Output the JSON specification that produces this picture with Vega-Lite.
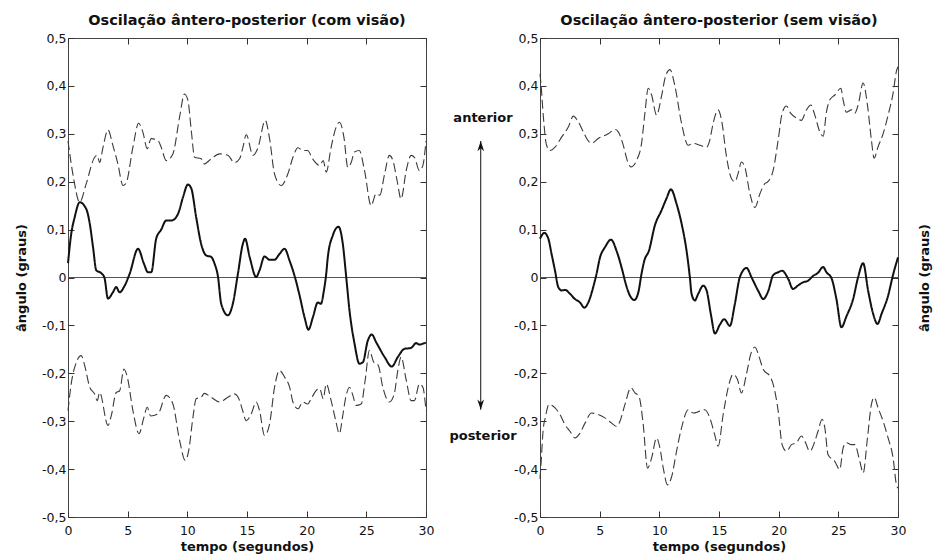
{
  "$schema": "https://vega.github.io/schema/vega-lite/v6.json",
  "padding": {"left": 14, "top": 12, "right": 2, "bottom": 0},
  "background": "white",
  "bounds": "flush",
  "spacing": 0,
  "config": {
    "font": "DejaVu Sans",
    "view": {"stroke": "#444", "strokeWidth": 1},
    "axis": {"domain": false, "grid": false, "tickColor": "#333", "tickSize": -6, "tickWidth": 1, "labelFont": "DejaVu Sans", "labelFontSize": 12.5, "labelColor": "#111", "titleFont": "DejaVu Sans", "titleFontSize": 13, "titleFontWeight": "bold", "titleColor": "#111", "labelFlush": false, "labelOverlap": false},
    "title": {"font": "DejaVu Sans", "fontSize": 14.5, "fontWeight": "bold", "color": "#111", "offset": 4, "anchor": "middle"}
  },
  "datasets": {
    "com": [
      {"s":"sup","t":0,"v":0.285},{"s":"sup","t":0.45,"v":0.21},{"s":"sup","t":0.98,"v":0.157},{"s":"sup","t":1.53,"v":0.196},{"s":"sup","t":2.23,"v":0.251},{"s":"sup","t":2.45,"v":0.255},{"s":"sup","t":2.65,"v":0.24},{"s":"sup","t":2.92,"v":0.27},{"s":"sup","t":3.35,"v":0.308},{"s":"sup","t":3.76,"v":0.276},{"s":"sup","t":4.18,"v":0.237},{"s":"sup","t":4.61,"v":0.192},{"s":"sup","t":4.87,"v":0.197},{"s":"sup","t":5.44,"v":0.272},{"s":"sup","t":5.92,"v":0.322},{"s":"sup","t":6.28,"v":0.303},{"s":"sup","t":6.64,"v":0.269},{"s":"sup","t":6.97,"v":0.29},{"s":"sup","t":7.54,"v":0.286},{"s":"sup","t":7.81,"v":0.272},{"s":"sup","t":8.23,"v":0.244},{"s":"sup","t":8.79,"v":0.258},{"s":"sup","t":9.35,"v":0.335},{"s":"sup","t":9.76,"v":0.383},{"s":"sup","t":10.05,"v":0.37},{"s":"sup","t":10.33,"v":0.307},{"s":"sup","t":10.61,"v":0.251},{"s":"sup","t":11.16,"v":0.248},{"s":"sup","t":11.42,"v":0.237},{"s":"sup","t":12.0,"v":0.248},{"s":"sup","t":12.71,"v":0.258},{"s":"sup","t":13.4,"v":0.255},{"s":"sup","t":13.94,"v":0.24},{"s":"sup","t":14.38,"v":0.248},{"s":"sup","t":14.64,"v":0.27},{"s":"sup","t":14.94,"v":0.298},{"s":"sup","t":15.5,"v":0.255},{"s":"sup","t":15.91,"v":0.27},{"s":"sup","t":16.53,"v":0.328},{"s":"sup","t":16.89,"v":0.29},{"s":"sup","t":17.31,"v":0.216},{"s":"sup","t":17.86,"v":0.192},{"s":"sup","t":18.42,"v":0.216},{"s":"sup","t":18.85,"v":0.251},{"s":"sup","t":19.27,"v":0.271},{"s":"sup","t":19.68,"v":0.265},{"s":"sup","t":20.08,"v":0.265},{"s":"sup","t":20.49,"v":0.248},{"s":"sup","t":21.08,"v":0.234},{"s":"sup","t":21.39,"v":0.244},{"s":"sup","t":21.64,"v":0.22},{"s":"sup","t":22.05,"v":0.272},{"s":"sup","t":22.47,"v":0.314},{"s":"sup","t":22.75,"v":0.324},{"s":"sup","t":23.12,"v":0.293},{"s":"sup","t":23.45,"v":0.23},{"s":"sup","t":23.73,"v":0.24},{"s":"sup","t":24.01,"v":0.262},{"s":"sup","t":24.41,"v":0.265},{"s":"sup","t":24.85,"v":0.223},{"s":"sup","t":25.4,"v":0.15},{"s":"sup","t":25.82,"v":0.175},{"s":"sup","t":26.13,"v":0.172},{"s":"sup","t":26.53,"v":0.216},{"s":"sup","t":26.93,"v":0.255},{"s":"sup","t":27.23,"v":0.244},{"s":"sup","t":27.58,"v":0.202},{"s":"sup","t":27.91,"v":0.164},{"s":"sup","t":28.34,"v":0.223},{"s":"sup","t":28.75,"v":0.255},{"s":"sup","t":29.03,"v":0.251},{"s":"sup","t":29.45,"v":0.223},{"s":"sup","t":29.74,"v":0.234},{"s":"sup","t":30.0,"v":0.285},
      {"s":"med","t":0,"v":0.03},{"s":"med","t":0.27,"v":0.091},{"s":"med","t":0.56,"v":0.126},{"s":"med","t":0.98,"v":0.157},{"s":"med","t":1.53,"v":0.143},{"s":"med","t":1.82,"v":0.113},{"s":"med","t":2.1,"v":0.063},{"s":"med","t":2.37,"v":0.015},{"s":"med","t":2.79,"v":0.009},{"s":"med","t":3.05,"v":0.0},{"s":"med","t":3.35,"v":-0.044},{"s":"med","t":3.76,"v":-0.031},{"s":"med","t":4.04,"v":-0.02},{"s":"med","t":4.32,"v":-0.031},{"s":"med","t":4.75,"v":-0.017},{"s":"med","t":5.17,"v":0.008},{"s":"med","t":5.87,"v":0.06},{"s":"med","t":6.36,"v":0.029},{"s":"med","t":6.7,"v":0.011},{"s":"med","t":6.98,"v":0.011},{"s":"med","t":7.39,"v":0.081},{"s":"med","t":7.81,"v":0.1},{"s":"med","t":8.23,"v":0.119},{"s":"med","t":8.65,"v":0.119},{"s":"med","t":8.93,"v":0.122},{"s":"med","t":9.27,"v":0.136},{"s":"med","t":9.64,"v":0.168},{"s":"med","t":10.05,"v":0.194},{"s":"med","t":10.33,"v":0.186},{"s":"med","t":10.74,"v":0.126},{"s":"med","t":11.16,"v":0.07},{"s":"med","t":11.58,"v":0.046},{"s":"med","t":12.0,"v":0.043},{"s":"med","t":12.28,"v":0.029},{"s":"med","t":12.56,"v":0.003},{"s":"med","t":12.84,"v":-0.055},{"s":"med","t":13.4,"v":-0.079},{"s":"med","t":13.81,"v":-0.055},{"s":"med","t":14.24,"v":0.008},{"s":"med","t":14.65,"v":0.07},{"s":"med","t":14.84,"v":0.081},{"s":"med","t":15.22,"v":0.043},{"s":"med","t":15.77,"v":0.001},{"s":"med","t":16.05,"v":0.015},{"s":"med","t":16.47,"v":0.044},{"s":"med","t":16.89,"v":0.037},{"s":"med","t":17.31,"v":0.037},{"s":"med","t":17.72,"v":0.049},{"s":"med","t":18.15,"v":0.06},{"s":"med","t":18.57,"v":0.035},{"s":"med","t":18.98,"v":0.004},{"s":"med","t":19.41,"v":-0.038},{"s":"med","t":19.82,"v":-0.083},{"s":"med","t":20.15,"v":-0.109},{"s":"med","t":20.52,"v":-0.083},{"s":"med","t":20.94,"v":-0.052},{"s":"med","t":21.19,"v":-0.055},{"s":"med","t":21.44,"v":-0.028},{"s":"med","t":21.64,"v":0.008},{"s":"med","t":21.77,"v":0.042},{"s":"med","t":22.19,"v":0.088},{"s":"med","t":22.67,"v":0.106},{"s":"med","t":23.03,"v":0.07},{"s":"med","t":23.31,"v":0.002},{"s":"med","t":23.59,"v":-0.069},{"s":"med","t":24.01,"v":-0.138},{"s":"med","t":24.42,"v":-0.18},{"s":"med","t":24.71,"v":-0.177},{"s":"med","t":25.12,"v":-0.132},{"s":"med","t":25.46,"v":-0.119},{"s":"med","t":25.82,"v":-0.135},{"s":"med","t":26.53,"v":-0.166},{"s":"med","t":27.13,"v":-0.186},{"s":"med","t":27.64,"v":-0.166},{"s":"med","t":28.19,"v":-0.149},{"s":"med","t":28.75,"v":-0.147},{"s":"med","t":29.17,"v":-0.137},{"s":"med","t":29.45,"v":-0.14},{"s":"med","t":29.87,"v":-0.137},{"s":"med","t":30.0,"v":-0.136},
      {"s":"inf","t":0,"v":-0.278},{"s":"inf","t":0.27,"v":-0.222},{"s":"inf","t":0.7,"v":-0.177},{"s":"inf","t":1.11,"v":-0.163},{"s":"inf","t":1.39,"v":-0.183},{"s":"inf","t":1.82,"v":-0.229},{"s":"inf","t":2.23,"v":-0.243},{"s":"inf","t":2.45,"v":-0.257},{"s":"inf","t":2.65,"v":-0.24},{"s":"inf","t":3.35,"v":-0.309},{"s":"inf","t":3.63,"v":-0.288},{"s":"inf","t":4.04,"v":-0.24},{"s":"inf","t":4.32,"v":-0.237},{"s":"inf","t":4.69,"v":-0.191},{"s":"inf","t":4.97,"v":-0.208},{"s":"inf","t":5.44,"v":-0.278},{"s":"inf","t":5.95,"v":-0.326},{"s":"inf","t":6.36,"v":-0.292},{"s":"inf","t":6.64,"v":-0.271},{"s":"inf","t":6.92,"v":-0.289},{"s":"inf","t":7.54,"v":-0.285},{"s":"inf","t":8.23,"v":-0.246},{"s":"inf","t":8.79,"v":-0.264},{"s":"inf","t":9.35,"v":-0.34},{"s":"inf","t":9.83,"v":-0.382},{"s":"inf","t":10.11,"v":-0.362},{"s":"inf","t":10.47,"v":-0.292},{"s":"inf","t":10.74,"v":-0.253},{"s":"inf","t":11.16,"v":-0.25},{"s":"inf","t":11.42,"v":-0.242},{"s":"inf","t":12.0,"v":-0.25},{"s":"inf","t":12.71,"v":-0.26},{"s":"inf","t":13.4,"v":-0.25},{"s":"inf","t":13.94,"v":-0.243},{"s":"inf","t":14.38,"v":-0.257},{"s":"inf","t":14.6,"v":-0.275},{"s":"inf","t":14.94,"v":-0.299},{"s":"inf","t":15.35,"v":-0.285},{"s":"inf","t":15.77,"v":-0.26},{"s":"inf","t":16.05,"v":-0.278},{"s":"inf","t":16.47,"v":-0.33},{"s":"inf","t":16.89,"v":-0.306},{"s":"inf","t":17.31,"v":-0.229},{"s":"inf","t":17.72,"v":-0.194},{"s":"inf","t":18.15,"v":-0.208},{"s":"inf","t":18.57,"v":-0.229},{"s":"inf","t":18.85,"v":-0.26},{"s":"inf","t":19.27,"v":-0.274},{"s":"inf","t":19.68,"v":-0.26},{"s":"inf","t":20.08,"v":-0.264},{"s":"inf","t":20.38,"v":-0.253},{"s":"inf","t":20.79,"v":-0.236},{"s":"inf","t":21.09,"v":-0.232},{"s":"inf","t":21.39,"v":-0.253},{"s":"inf","t":21.64,"v":-0.222},{"s":"inf","t":22.05,"v":-0.257},{"s":"inf","t":22.4,"v":-0.295},{"s":"inf","t":22.75,"v":-0.326},{"s":"inf","t":23.0,"v":-0.292},{"s":"inf","t":23.31,"v":-0.246},{"s":"inf","t":23.59,"v":-0.229},{"s":"inf","t":23.87,"v":-0.246},{"s":"inf","t":24.14,"v":-0.267},{"s":"inf","t":24.57,"v":-0.264},{"s":"inf","t":24.9,"v":-0.215},{"s":"inf","t":25.26,"v":-0.152},{"s":"inf","t":25.62,"v":-0.177},{"s":"inf","t":25.99,"v":-0.183},{"s":"inf","t":26.38,"v":-0.229},{"s":"inf","t":26.93,"v":-0.26},{"s":"inf","t":27.34,"v":-0.243},{"s":"inf","t":27.64,"v":-0.194},{"s":"inf","t":27.91,"v":-0.166},{"s":"inf","t":28.35,"v":-0.215},{"s":"inf","t":28.75,"v":-0.257},{"s":"inf","t":29.03,"v":-0.257},{"s":"inf","t":29.45,"v":-0.222},{"s":"inf","t":29.74,"v":-0.229},{"s":"inf","t":30.0,"v":-0.278}
    ],
    "sem": [
      {"s":"sup","t":0,"v":0.425},{"s":"sup","t":0.08,"v":0.405},{"s":"sup","t":0.28,"v":0.336},{"s":"sup","t":0.55,"v":0.276},{"s":"sup","t":0.84,"v":0.265},{"s":"sup","t":1.26,"v":0.272},{"s":"sup","t":1.81,"v":0.293},{"s":"sup","t":2.37,"v":0.314},{"s":"sup","t":2.79,"v":0.337},{"s":"sup","t":3.21,"v":0.325},{"s":"sup","t":3.63,"v":0.304},{"s":"sup","t":3.99,"v":0.287},{"s":"sup","t":4.32,"v":0.28},{"s":"sup","t":4.88,"v":0.29},{"s":"sup","t":5.72,"v":0.3},{"s":"sup","t":6.28,"v":0.309},{"s":"sup","t":6.56,"v":0.304},{"s":"sup","t":6.98,"v":0.276},{"s":"sup","t":7.34,"v":0.242},{"s":"sup","t":7.62,"v":0.231},{"s":"sup","t":8.1,"v":0.245},{"s":"sup","t":8.51,"v":0.28},{"s":"sup","t":8.79,"v":0.343},{"s":"sup","t":9.07,"v":0.395},{"s":"sup","t":9.35,"v":0.381},{"s":"sup","t":9.77,"v":0.339},{"s":"sup","t":10.18,"v":0.378},{"s":"sup","t":10.52,"v":0.42},{"s":"sup","t":10.89,"v":0.434},{"s":"sup","t":11.31,"v":0.399},{"s":"sup","t":11.86,"v":0.322},{"s":"sup","t":12.42,"v":0.276},{"s":"sup","t":12.84,"v":0.28},{"s":"sup","t":13.4,"v":0.276},{"s":"sup","t":13.95,"v":0.272},{"s":"sup","t":14.23,"v":0.287},{"s":"sup","t":14.51,"v":0.322},{"s":"sup","t":14.93,"v":0.35},{"s":"sup","t":15.21,"v":0.329},{"s":"sup","t":15.63,"v":0.252},{"s":"sup","t":16.05,"v":0.206},{"s":"sup","t":16.33,"v":0.2},{"s":"sup","t":16.6,"v":0.217},{"s":"sup","t":16.88,"v":0.241},{"s":"sup","t":17.16,"v":0.231},{"s":"sup","t":17.59,"v":0.175},{"s":"sup","t":18.01,"v":0.146},{"s":"sup","t":18.43,"v":0.175},{"s":"sup","t":18.84,"v":0.196},{"s":"sup","t":19.1,"v":0.2},{"s":"sup","t":19.54,"v":0.224},{"s":"sup","t":19.96,"v":0.287},{"s":"sup","t":20.29,"v":0.343},{"s":"sup","t":20.65,"v":0.358},{"s":"sup","t":21.0,"v":0.343},{"s":"sup","t":21.49,"v":0.333},{"s":"sup","t":21.9,"v":0.328},{"s":"sup","t":22.33,"v":0.35},{"s":"sup","t":22.7,"v":0.36},{"s":"sup","t":23.03,"v":0.339},{"s":"sup","t":23.45,"v":0.304},{"s":"sup","t":23.73,"v":0.295},{"s":"sup","t":24.0,"v":0.345},{"s":"sup","t":24.29,"v":0.371},{"s":"sup","t":24.71,"v":0.381},{"s":"sup","t":25.21,"v":0.395},{"s":"sup","t":25.4,"v":0.371},{"s":"sup","t":25.68,"v":0.345},{"s":"sup","t":26.1,"v":0.35},{"s":"sup","t":26.38,"v":0.343},{"s":"sup","t":26.66,"v":0.36},{"s":"sup","t":27.08,"v":0.406},{"s":"sup","t":27.44,"v":0.36},{"s":"sup","t":27.77,"v":0.287},{"s":"sup","t":28.0,"v":0.249},{"s":"sup","t":28.33,"v":0.273},{"s":"sup","t":28.75,"v":0.3},{"s":"sup","t":29.17,"v":0.339},{"s":"sup","t":29.59,"v":0.385},{"s":"sup","t":29.87,"v":0.431},{"s":"sup","t":30,"v":0.44},
      {"s":"med","t":0,"v":0.081},{"s":"med","t":0.36,"v":0.093},{"s":"med","t":0.7,"v":0.081},{"s":"med","t":0.97,"v":0.049},{"s":"med","t":1.26,"v":0.014},{"s":"med","t":1.53,"v":-0.02},{"s":"med","t":1.81,"v":-0.027},{"s":"med","t":2.11,"v":-0.026},{"s":"med","t":2.51,"v":-0.034},{"s":"med","t":2.93,"v":-0.045},{"s":"med","t":3.35,"v":-0.052},{"s":"med","t":3.71,"v":-0.063},{"s":"med","t":4.05,"v":-0.052},{"s":"med","t":4.46,"v":-0.02},{"s":"med","t":4.74,"v":0.008},{"s":"med","t":5.03,"v":0.042},{"s":"med","t":5.44,"v":0.063},{"s":"med","t":5.95,"v":0.079},{"s":"med","t":6.45,"v":0.053},{"s":"med","t":6.98,"v":0.007},{"s":"med","t":7.12,"v":-0.007},{"s":"med","t":7.54,"v":-0.038},{"s":"med","t":7.9,"v":-0.047},{"s":"med","t":8.24,"v":-0.031},{"s":"med","t":8.51,"v":0.008},{"s":"med","t":8.74,"v":0.035},{"s":"med","t":9.13,"v":0.056},{"s":"med","t":9.63,"v":0.109},{"s":"med","t":10.18,"v":0.14},{"s":"med","t":10.6,"v":0.165},{"s":"med","t":10.97,"v":0.184},{"s":"med","t":11.44,"v":0.154},{"s":"med","t":11.86,"v":0.113},{"s":"med","t":12.28,"v":0.056},{"s":"med","t":12.56,"v":0.0},{"s":"med","t":12.7,"v":-0.034},{"s":"med","t":12.98,"v":-0.048},{"s":"med","t":13.26,"v":-0.034},{"s":"med","t":13.68,"v":-0.017},{"s":"med","t":13.96,"v":-0.027},{"s":"med","t":14.32,"v":-0.077},{"s":"med","t":14.66,"v":-0.117},{"s":"med","t":15.08,"v":-0.098},{"s":"med","t":15.44,"v":-0.087},{"s":"med","t":15.91,"v":-0.101},{"s":"med","t":16.33,"v":-0.055},{"s":"med","t":16.75,"v":0.001},{"s":"med","t":17.31,"v":0.02},{"s":"med","t":17.73,"v":0.0},{"s":"med","t":18.29,"v":-0.028},{"s":"med","t":18.71,"v":-0.045},{"s":"med","t":19.13,"v":-0.028},{"s":"med","t":19.54,"v":0.005},{"s":"med","t":19.96,"v":0.011},{"s":"med","t":20.29,"v":0.014},{"s":"med","t":20.8,"v":-0.003},{"s":"med","t":21.2,"v":-0.024},{"s":"med","t":21.6,"v":-0.017},{"s":"med","t":22.04,"v":-0.01},{"s":"med","t":22.45,"v":-0.007},{"s":"med","t":22.87,"v":0.003},{"s":"med","t":23.3,"v":0.01},{"s":"med","t":23.73,"v":0.022},{"s":"med","t":24.0,"v":0.011},{"s":"med","t":24.42,"v":-0.001},{"s":"med","t":24.84,"v":-0.045},{"s":"med","t":25.26,"v":-0.104},{"s":"med","t":25.68,"v":-0.081},{"s":"med","t":26.24,"v":-0.045},{"s":"med","t":26.66,"v":0.001},{"s":"med","t":27.08,"v":0.03},{"s":"med","t":27.5,"v":-0.028},{"s":"med","t":27.92,"v":-0.076},{"s":"med","t":28.28,"v":-0.097},{"s":"med","t":28.62,"v":-0.076},{"s":"med","t":29.17,"v":-0.038},{"s":"med","t":29.59,"v":0.006},{"s":"med","t":30,"v":0.042},
      {"s":"inf","t":0,"v":-0.42},{"s":"inf","t":0.08,"v":-0.391},{"s":"inf","t":0.28,"v":-0.314},{"s":"inf","t":0.44,"v":-0.293},{"s":"inf","t":0.75,"v":-0.265},{"s":"inf","t":1.26,"v":-0.272},{"s":"inf","t":1.67,"v":-0.286},{"s":"inf","t":2.09,"v":-0.307},{"s":"inf","t":2.51,"v":-0.321},{"s":"inf","t":2.93,"v":-0.335},{"s":"inf","t":3.35,"v":-0.325},{"s":"inf","t":3.77,"v":-0.304},{"s":"inf","t":4.32,"v":-0.283},{"s":"inf","t":4.88,"v":-0.286},{"s":"inf","t":5.44,"v":-0.293},{"s":"inf","t":6.0,"v":-0.304},{"s":"inf","t":6.42,"v":-0.311},{"s":"inf","t":6.7,"v":-0.3},{"s":"inf","t":7.12,"v":-0.265},{"s":"inf","t":7.62,"v":-0.23},{"s":"inf","t":7.96,"v":-0.241},{"s":"inf","t":8.29,"v":-0.248},{"s":"inf","t":8.65,"v":-0.307},{"s":"inf","t":9.01,"v":-0.398},{"s":"inf","t":9.35,"v":-0.377},{"s":"inf","t":9.77,"v":-0.335},{"s":"inf","t":10.05,"v":-0.356},{"s":"inf","t":10.33,"v":-0.398},{"s":"inf","t":10.69,"v":-0.433},{"s":"inf","t":11.03,"v":-0.416},{"s":"inf","t":11.44,"v":-0.363},{"s":"inf","t":11.86,"v":-0.314},{"s":"inf","t":12.42,"v":-0.276},{"s":"inf","t":12.84,"v":-0.283},{"s":"inf","t":13.4,"v":-0.279},{"s":"inf","t":13.82,"v":-0.276},{"s":"inf","t":14.23,"v":-0.293},{"s":"inf","t":14.66,"v":-0.33},{"s":"inf","t":14.93,"v":-0.352},{"s":"inf","t":15.35,"v":-0.286},{"s":"inf","t":15.77,"v":-0.23},{"s":"inf","t":16.19,"v":-0.202},{"s":"inf","t":16.55,"v":-0.213},{"s":"inf","t":16.88,"v":-0.241},{"s":"inf","t":17.3,"v":-0.202},{"s":"inf","t":17.66,"v":-0.16},{"s":"inf","t":18.01,"v":-0.145},{"s":"inf","t":18.34,"v":-0.164},{"s":"inf","t":18.71,"v":-0.192},{"s":"inf","t":19.26,"v":-0.206},{"s":"inf","t":19.54,"v":-0.223},{"s":"inf","t":19.96,"v":-0.279},{"s":"inf","t":20.29,"v":-0.349},{"s":"inf","t":20.65,"v":-0.363},{"s":"inf","t":21.07,"v":-0.349},{"s":"inf","t":21.49,"v":-0.345},{"s":"inf","t":21.91,"v":-0.331},{"s":"inf","t":22.2,"v":-0.342},{"s":"inf","t":22.61,"v":-0.363},{"s":"inf","t":23.03,"v":-0.342},{"s":"inf","t":23.3,"v":-0.321},{"s":"inf","t":23.64,"v":-0.296},{"s":"inf","t":23.87,"v":-0.314},{"s":"inf","t":24.14,"v":-0.37},{"s":"inf","t":24.7,"v":-0.384},{"s":"inf","t":25.12,"v":-0.401},{"s":"inf","t":25.4,"v":-0.356},{"s":"inf","t":25.68,"v":-0.345},{"s":"inf","t":26.1,"v":-0.349},{"s":"inf","t":26.38,"v":-0.349},{"s":"inf","t":26.8,"v":-0.384},{"s":"inf","t":27.08,"v":-0.408},{"s":"inf","t":27.44,"v":-0.335},{"s":"inf","t":27.77,"v":-0.265},{"s":"inf","t":28.0,"v":-0.25},{"s":"inf","t":28.33,"v":-0.272},{"s":"inf","t":28.75,"v":-0.3},{"s":"inf","t":29.17,"v":-0.335},{"s":"inf","t":29.59,"v":-0.377},{"s":"inf","t":29.87,"v":-0.433},{"s":"inf","t":30,"v":-0.44}
    ]
  },
  "hconcat": [
    {
      "width": 358, "height": 479,
      "title": "Oscilação ântero-posterior (com visão)",
      "layer": [
        {
          "data": {"values": [{}]},
          "mark": {"type": "rule", "color": "#555", "strokeWidth": 1},
          "encoding": {"y": {"datum": 0, "type": "quantitative", "scale": {"domain": [-0.5, 0.5], "nice": false, "zero": false}, "axis": {"orient": "right", "values": [-0.5,-0.4,-0.3,-0.2,-0.1,0,0.1,0.2,0.3,0.4,0.5], "labels": false, "title": null}}}
        },
        {
          "data": {"name": "com"},
          "mark": {"type": "line", "interpolate": "monotone"},
          "encoding": {
            "x": {"field": "t", "type": "quantitative", "scale": {"domain": [0, 30], "nice": false, "zero": false}, "axis": {"orient": "bottom", "values": [0,5,10,15,20,25,30], "format": "d", "title": "tempo (segundos)", "labelPadding": 13, "titlePadding": 4}},
            "y": {"field": "v", "type": "quantitative", "axis": {"orient": "left", "values": [-0.5,-0.4,-0.3,-0.2,-0.1,0,0.1,0.2,0.3,0.4,0.5], "labelExpr": "abs(datum.value) < 1e-9 ? '0' : (datum.value < 0 ? '-' : '') + replace(format(abs(datum.value), '.1f'), '.', ',')", "title": "ângulo (graus)", "labelPadding": 8, "minExtent": 32, "maxExtent": 32, "titlePadding": 8}},
            "detail": {"field": "s"},
            "color": {"field": "s", "type": "nominal", "scale": {"domain": ["sup", "med", "inf"], "range": ["#3a3a3a", "#111111", "#3a3a3a"]}, "legend": null},
            "strokeDash": {"field": "s", "type": "nominal", "scale": {"domain": ["sup", "med", "inf"], "range": [[9, 4], [1, 0], [9, 4]]}, "legend": null},
            "strokeWidth": {"field": "s", "type": "nominal", "scale": {"type": "ordinal", "domain": ["sup", "med", "inf"], "range": [1.1, 2, 1.1]}, "legend": null}
          }
        },
        {
          "data": {"name": "com"},
          "mark": {"type": "point", "opacity": 0},
          "encoding": {
            "x": {"field": "t", "type": "quantitative", "axis": {"orient": "top", "values": [0,5,10,15,20,25,30], "labels": false, "title": null}},
            "y": {"field": "v", "type": "quantitative", "axis": null}
          }
        }
      ],
      "resolve": {"axis": {"x": "independent", "y": "independent"}}
    },
    {
      "width": 114, "height": 479,
      "view": {"stroke": null},
      "layer": [
        {
          "data": {"values": [{"pos": 0.48, "ini": -0.276, "fim": 0.285}]},
          "mark": {"type": "rule", "color": "#111", "strokeWidth": 1},
          "encoding": {
            "x": {"field": "pos", "type": "quantitative", "scale": {"domain": [0, 1]}, "axis": null},
            "y": {"field": "ini", "type": "quantitative", "scale": {"domain": [-0.5, 0.5], "nice": false, "zero": false}, "axis": null},
            "y2": {"field": "fim"}
          }
        },
        {
          "data": {"values": [{"pos": 0.48, "ponta": 0.285, "dir": "up"}, {"pos": 0.48, "ponta": -0.276, "dir": "down"}]},
          "mark": {"type": "point", "filled": true, "color": "#111", "opacity": 1, "size": 420, "strokeWidth": 0},
          "encoding": {
            "x": {"field": "pos", "type": "quantitative"},
            "y": {"field": "ponta", "type": "quantitative"},
            "shape": {"field": "dir", "type": "nominal", "scale": {"domain": ["up", "down"], "range": ["M0,0 L0.33,1 L0,0.7 L-0.33,1 Z", "M0,0 L0.33,-1 L0,-0.7 L-0.33,-1 Z"]}, "legend": null}
          }
        },
        {
          "data": {"values": [{"pos": 0.5, "nivel": 0.334, "rotulo": "anterior"}, {"pos": 0.5, "nivel": -0.33, "rotulo": "posterior"}]},
          "mark": {"type": "text", "font": "DejaVu Sans", "fontSize": 13, "fontWeight": "bold", "color": "#111", "align": "center", "baseline": "middle"},
          "encoding": {
            "x": {"field": "pos", "type": "quantitative"},
            "y": {"field": "nivel", "type": "quantitative"},
            "text": {"field": "rotulo"}
          }
        }
      ]
    },
    {
      "width": 358, "height": 479,
      "title": "Oscilação ântero-posterior (sem visão)",
      "layer": [
        {
          "data": {"values": [{}]},
          "mark": {"type": "rule", "color": "#555", "strokeWidth": 1},
          "encoding": {"y": {"datum": 0, "type": "quantitative", "scale": {"domain": [-0.5, 0.5], "nice": false, "zero": false}, "axis": {"orient": "right", "values": [-0.5,-0.4,-0.3,-0.2,-0.1,0,0.1,0.2,0.3,0.4,0.5], "labels": false, "title": "ângulo (graus)", "titleAngle": 270, "titlePadding": 33}}}
        },
        {
          "data": {"name": "sem"},
          "mark": {"type": "line", "interpolate": "monotone"},
          "encoding": {
            "x": {"field": "t", "type": "quantitative", "scale": {"domain": [0, 30], "nice": false, "zero": false}, "axis": {"orient": "bottom", "values": [0,5,10,15,20,25,30], "format": "d", "title": "tempo (segundos)", "labelPadding": 13, "titlePadding": 4}},
            "y": {"field": "v", "type": "quantitative", "axis": {"orient": "left", "values": [-0.5,-0.4,-0.3,-0.2,-0.1,0,0.1,0.2,0.3,0.4,0.5], "labelExpr": "abs(datum.value) < 1e-9 ? '0' : (datum.value < 0 ? '-' : '') + replace(format(abs(datum.value), '.1f'), '.', ',')", "title": null, "labelPadding": 8}},
            "detail": {"field": "s"},
            "color": {"field": "s", "type": "nominal", "scale": {"domain": ["sup", "med", "inf"], "range": ["#3a3a3a", "#111111", "#3a3a3a"]}, "legend": null},
            "strokeDash": {"field": "s", "type": "nominal", "scale": {"domain": ["sup", "med", "inf"], "range": [[9, 4], [1, 0], [9, 4]]}, "legend": null},
            "strokeWidth": {"field": "s", "type": "nominal", "scale": {"type": "ordinal", "domain": ["sup", "med", "inf"], "range": [1.1, 2, 1.1]}, "legend": null}
          }
        },
        {
          "data": {"name": "sem"},
          "mark": {"type": "point", "opacity": 0},
          "encoding": {
            "x": {"field": "t", "type": "quantitative", "axis": {"orient": "top", "values": [0,5,10,15,20,25,30], "labels": false, "title": null}},
            "y": {"field": "v", "type": "quantitative", "axis": null}
          }
        }
      ],
      "resolve": {"axis": {"x": "independent", "y": "independent"}}
    }
  ]
}
